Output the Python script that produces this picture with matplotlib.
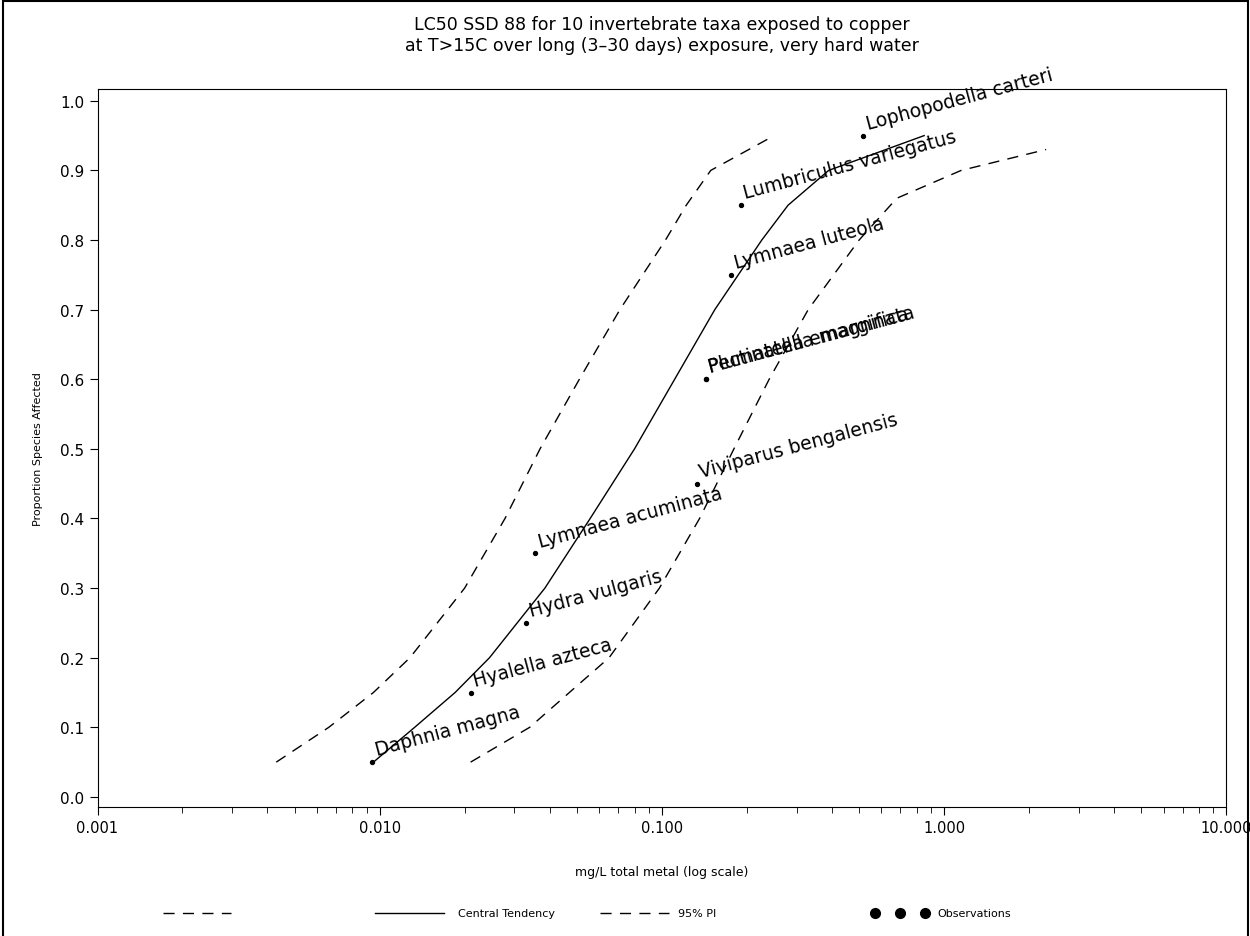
import matplotlib
matplotlib.use('Agg')
import matplotlib.pyplot as plt
from matplotlib.lines import Line2D
from matplotlib.patches import Rectangle

# observations
taxa = ['Daphnia magna', 'Hyalella azteca', 'Hydra vulgaris', 'Lymnaea acuminata',
        'Viviparus bengalensis', 'Plumatella emarginata', 'Pectinatella magnifica',
        'Lymnaea luteola', 'Lumbriculus variegatus', 'Lophopodella carteri']
obs_x = [0.0094, 0.021, 0.033, 0.0355, 0.133, 0.143, 0.143, 0.176, 0.19, 0.516]
obs_y = [0.05, 0.15, 0.25, 0.35, 0.45, 0.6, 0.6, 0.75, 0.85, 0.95]

# fitted curves
curve_p = [0.05, 0.1, 0.15, 0.2, 0.3, 0.4, 0.5, 0.6, 0.7, 0.8, 0.85, 0.9, 0.95]
central_x = [0.0095, 0.0133, 0.0185, 0.0245, 0.0385, 0.0557, 0.080, 0.111, 0.154,
             0.226, 0.28, 0.39, 0.85]
lower_x = [0.0043, 0.0066, 0.0095, 0.0128, 0.020, 0.0278, 0.037, 0.051, 0.071,
           0.103, 0.122, 0.149, 0.25]
upper_x = [0.021, 0.034, 0.047, 0.065, 0.098, 0.136, 0.18, 0.24, 0.33, 0.50, 0.68,
           1.15, 2.3]
upper_p = [0.05, 0.1, 0.15, 0.2, 0.3, 0.4, 0.5, 0.6, 0.7, 0.8, 0.86, 0.9, 0.93]

fig = plt.figure(figsize=(12.5, 9.37), dpi=100)
ax = fig.add_axes([0.078, 0.138, 0.903, 0.766])

ax.plot(central_x, curve_p, color='black', linewidth=1)
ax.plot(lower_x, curve_p, color='black', linewidth=1, dashes=(8, 6))
ax.plot(upper_x, upper_p, color='black', linewidth=1, dashes=(8, 6))
ax.scatter(obs_x, obs_y, s=8, color='black', zorder=3)
for name, x, y in zip(taxa, obs_x, obs_y):
    ax.annotate(name, (x, y), xytext=(4, 2), textcoords='offset points',
                rotation=15, rotation_mode='anchor', fontsize=13.5, ha='left', va='bottom')

ax.set_xscale('log')
ax.set_xlim(0.001, 10)
ax.set_ylim(-0.014, 1.017)
ax.set_xticks([0.001, 0.01, 0.1, 1, 10])
ax.set_xticklabels(['0.001', '0.010', '0.100', '1.000', '10.000'], fontsize=10.5)
ax.set_yticks([i / 10 for i in range(11)])
ax.set_yticklabels([f'{i / 10:.1f}' for i in range(11)], fontsize=11)
ax.tick_params(which='major', length=6)
ax.tick_params(which='minor', length=4)
ax.set_xlabel('mg/L total metal (log scale)', fontsize=9, labelpad=22)
ax.set_ylabel('Proportion Species Affected', fontsize=8, labelpad=12)
ax.set_title('LC50 SSD 88 for 10 invertebrate taxa exposed to copper\n'
             'at T>15C over long (3\u201330 days) exposure, very hard water',
             fontsize=12.5, pad=28)

# legend row
y = 0.025
fig.add_artist(Line2D([0.13, 0.185], [y, y], color='black', lw=1, dashes=(8, 6)))
fig.add_artist(Line2D([0.30, 0.355], [y, y], color='black', lw=1))
fig.text(0.366, y, 'Central Tendency', fontsize=8, va='center')
fig.add_artist(Line2D([0.48, 0.535], [y, y], color='black', lw=1, dashes=(8, 6)))
fig.text(0.542, y, '95% PI', fontsize=8, va='center')
for xx in [0.70, 0.72, 0.74]:
    fig.add_artist(Line2D([xx], [y], marker='o', color='black', markersize=7))
fig.text(0.75, y, 'Observations', fontsize=8, va='center')

fig.add_artist(Rectangle((0.002, -0.01), 0.996, 1.008, transform=fig.transFigure,
                         fill=False, edgecolor='black', lw=1.5))

plt.savefig('out.png', dpi=100)
